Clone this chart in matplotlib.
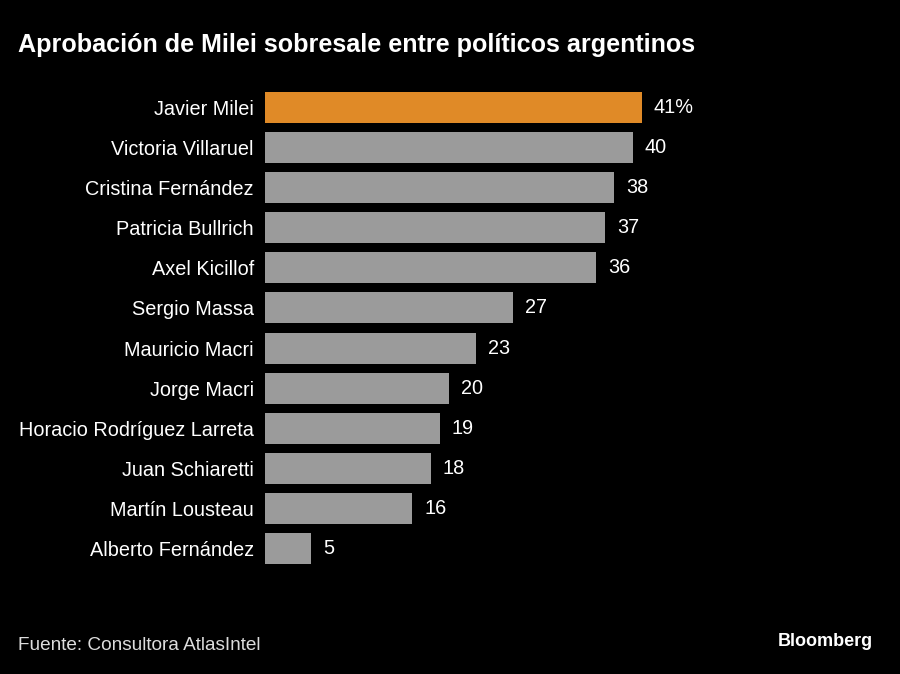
import matplotlib
matplotlib.use("Agg")
import matplotlib.pyplot as plt

names = ["Javier Milei", "Victoria Villaruel", "Cristina Fernández", "Patricia Bullrich",
         "Axel Kicillof", "Sergio Massa", "Mauricio Macri", "Jorge Macri",
         "Horacio Rodríguez Larreta", "Juan Schiaretti", "Martín Lousteau", "Alberto Fernández"]
values = [41, 40, 38, 37, 36, 27, 23, 20, 19, 18, 16, 5]
value_labels = ["41%"] + [str(v) for v in values[1:]]
colors = ["#E08A27"] + ["#9B9B9B"] * (len(values) - 1)

plt.rcParams['font.family'] = ['Liberation Sans', 'DejaVu Sans']

W, H = 900, 674
fig = plt.figure(figsize=(W / 100, H / 100), dpi=100, facecolor="black")
ax_left, ax_right = 265, 700
ax_top, ax_bot = 87, 569
ax = fig.add_axes([ax_left / W, 1 - ax_bot / H, (ax_right - ax_left) / W, (ax_bot - ax_top) / H])
ax.set_facecolor("black")
y = list(range(len(values)))
ax.barh(y, values, height=0.77, color=colors)
ax.set_ylim(len(values) - 0.5, -0.5)
ax.set_xlim(0, (ax_right - ax_left) / 9.195)
for yi, v, lab in zip(y, values, value_labels):
    ax.text(v + 1.3, yi, lab, color="white", fontsize=14.3, va="center", ha="left")
ax.set_yticks(y)
ax.set_yticklabels(names, color="white", fontsize=14.3)
ax.tick_params(axis="y", length=0, pad=8)
ax.set_xticks([])
for s in ax.spines.values():
    s.set_visible(False)

fig.text(18 / W, 1 - 45 / H, "Aprobación de Milei sobresale entre políticos argentinos",
         color="white", fontsize=18.1, fontweight="bold", va="center", ha="left")
fig.text(18 / W, 1 - 645 / H, "Fuente: Consultora AtlasIntel", color="#DDDDDD",
         fontsize=13.7, va="center", ha="left")
fig.text(873 / W, 1 - 642 / H, "Bloomberg", color="white", fontsize=13,
         fontweight="bold", va="center", ha="right")

fig.savefig("out.png", dpi=100, facecolor="black")
